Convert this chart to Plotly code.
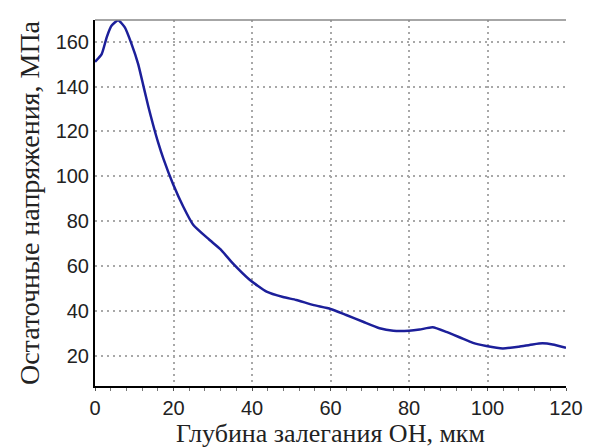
import plotly.graph_objects as go

depth_um = [0, 1.7, 3, 4.2, 5.9, 7.6, 9.3, 11, 12.3, 13.6, 14.8, 16.1, 17.4, 19.9, 22.5, 25, 29,
            32, 35, 39.4, 43.7, 47.9, 51.3, 55.5, 60, 64, 68.3, 72.5, 76, 80, 82.7, 86, 89.5,
            93, 96.3, 99.7, 103.9, 108, 111.5, 114, 116.6, 120]
stress_mpa = [151, 154.4, 162, 167, 169.5, 166.3, 159, 150, 140.5, 131, 123, 115, 108, 96.5,
              86.5, 78.5, 72, 67.5, 61.5, 54, 48.7, 46.3, 45, 42.8, 41, 38.3, 35.3, 32.4, 31.3,
              31.3, 31.8, 32.8, 30.8, 28.3, 25.9, 24.5, 23.4, 24.2, 25.2, 25.7, 25.2, 23.7]

x_ticks = [0, 20, 40, 60, 80, 100, 120]
y_ticks = [20, 40, 60, 80, 100, 120, 140, 160]

fig = go.Figure()
fig.add_trace(go.Scatter(x=depth_um, y=stress_mpa, mode="lines",
                         line=dict(color="#1c1f9a", width=2.5, shape="spline", smoothing=0.5),
                         showlegend=False))

grid = dict(showgrid=True, gridcolor="#a8a8a8", gridwidth=1.5, griddash="2px,4px")
fig.update_xaxes(range=[0, 120], tickvals=x_ticks, **grid, automargin=False,
                 showline=True, linecolor="black", linewidth=2,
                 ticks="outside", ticklen=3, tickcolor="#555",
                 minor=dict(dtick=4, ticks="outside", ticklen=3, tickcolor="#777", showgrid=False),
                 tickfont=dict(family="Liberation Sans, Arial", size=20, color="#222"),
                 title=dict(text="Глубина залегания ОН, мкм",
                            font=dict(family="Liberation Serif, Times New Roman", size=26, color="#222"),
                            standoff=14),
                 zeroline=False)
fig.update_yaxes(range=[6.7, 169.6], tickvals=y_ticks, **grid, automargin=False,
                 showline=True, linecolor="black", linewidth=2,
                 ticks="",
                 tickfont=dict(family="Liberation Sans, Arial", size=20, color="#222"),
                 title=dict(text="Остаточные напряжения, МПа",
                            font=dict(family="Liberation Serif, Times New Roman", size=28, color="#222"),
                            standoff=8),
                 zeroline=False)

fig.add_shape(type="line", xref="paper", yref="paper", x0=0, x1=1, y0=1, y1=1,
              line=dict(color="#888", width=1.5))

# the page adds an 8px body margin, so the figure is 8px smaller and margins shifted
fig.update_layout(width=585, height=440, plot_bgcolor="white", paper_bgcolor="white",
                  margin=dict(l=87, r=27, t=12, b=62))
fig.write_html("out.html")
